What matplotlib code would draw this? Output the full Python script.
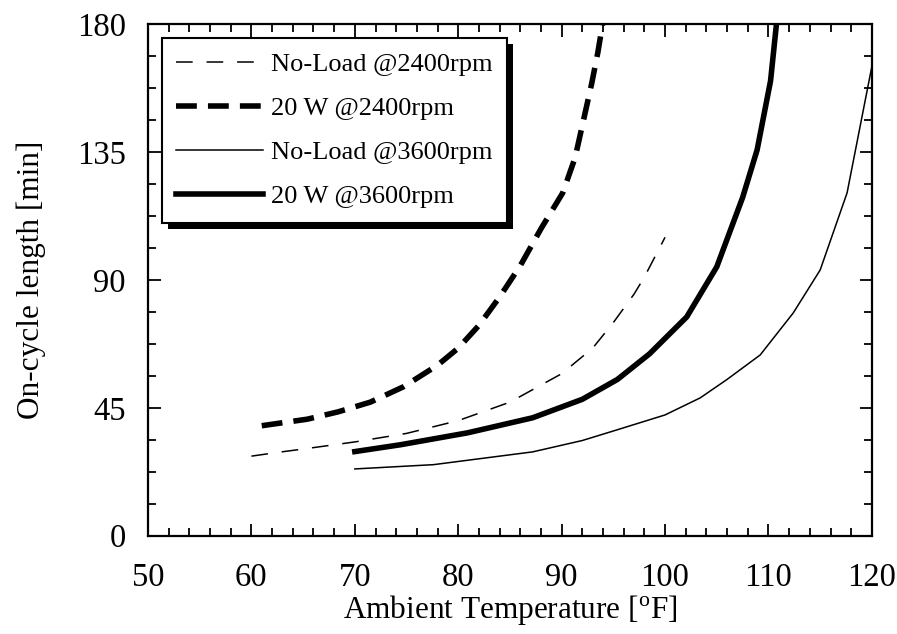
import matplotlib
matplotlib.use("Agg")
import matplotlib.pyplot as plt
from matplotlib.ticker import MultipleLocator
from matplotlib.patches import Rectangle

# Fonts: Times-like serif everywhere
plt.rcParams['font.family'] = ['Liberation Serif', 'DejaVu Serif']
plt.rcParams['mathtext.fontset'] = 'custom'
plt.rcParams['mathtext.rm'] = 'Liberation Serif'
plt.rcParams['lines.scale_dashes'] = False

# Curves
x_noload_2400 = [60, 62.5, 65, 70, 75, 80, 85, 90, 93, 95, 97, 98, 100]
y_noload_2400 = [28, 29.3, 30.5, 33, 36, 40.5, 47, 57, 66, 75, 85, 91, 105]

x_20w_2400 = [61, 65.4, 68.4, 71.5, 74.7, 78, 80, 82, 84, 86, 88, 90.1, 91.3, 92.1, 92.9, 93.5, 94]
y_20w_2400 = [38.7, 41, 43.6, 47, 52.4, 60, 66, 74, 84, 95, 108, 120.6, 133, 146, 159, 170, 181]

x_noload_3600 = [70, 77.6, 87.2, 92, 95.4, 100, 103.4, 106, 109.2, 112.4, 115, 117.6, 120.1]
y_noload_3600 = [23.5, 25, 29.5, 33.5, 37.3, 42.5, 48.5, 55, 63.6, 78.4, 93.5, 120.6, 167]

x_20w_3600 = [70, 74.4, 80.9, 87.2, 92, 95.4, 98.5, 102.1, 105, 107.5, 108.9, 110.2, 110.8]
y_20w_3600 = [29.6, 32, 36.2, 41.5, 48, 55, 64, 77, 94.6, 119, 135.7, 160, 181]

labels = ['No-Load @2400rpm', '20 W @2400rpm', 'No-Load @3600rpm', '20 W @3600rpm']

fig = plt.figure(figsize=(8.97, 6.34), dpi=100)
ax = fig.add_axes([0.165, 0.155, 0.807, 0.807])

ax.plot(x_noload_2400, y_noload_2400, color='black', lw=1.1,
        linestyle=(0, (12, 10)), label=labels[0])
ax.plot(x_20w_2400, y_20w_2400, color='black', lw=4.0,
        linestyle=(0, (15, 8)), label=labels[1])
ax.plot(x_noload_3600, y_noload_3600, color='black', lw=1.1, label=labels[2])
ax.plot(x_20w_3600, y_20w_3600, color='black', lw=4.0, label=labels[3])

ax.set_xlim(50, 120)
ax.set_ylim(0, 180)
ax.xaxis.set_major_locator(MultipleLocator(10))
ax.xaxis.set_minor_locator(MultipleLocator(2))
ax.yaxis.set_major_locator(MultipleLocator(45))
ax.yaxis.set_minor_locator(MultipleLocator(11.25))
ax.tick_params(which='both', direction='in', top=True, right=True, width=1.3)
ax.tick_params(which='major', length=9)
ax.tick_params(which='minor', length=6)
ax.tick_params(axis='x', which='major', labelsize=23.5, pad=19)
ax.tick_params(axis='y', which='major', labelsize=23.5, pad=16)
for s in ax.spines.values():
    s.set_linewidth(1.6)

ax.set_xlabel('Ambient Temperature [$^{\\rm o}$F]', fontsize=22.5, labelpad=0)
ax.set_ylabel('On-cycle length [min]', fontsize=22.5, labelpad=22)

leg = ax.legend(loc='upper left', bbox_to_anchor=(0.019, 0.973), borderaxespad=0,
                fontsize=19, handlelength=3.3, handletextpad=0.3,
                labelspacing=0.78, borderpad=0.55, fancybox=False, framealpha=1)
leg.get_frame().set_edgecolor('black')
leg.get_frame().set_linewidth(1.5)

# thick black drop shadow behind the legend box
fig.canvas.draw()
bb = leg.get_window_extent()
shadow = Rectangle((bb.x0 + 6, bb.y0 - 6), bb.width, bb.height,
                   transform=None, facecolor='black', edgecolor='none', zorder=4)
ax.add_artist(shadow)
leg.set_zorder(5)

fig.savefig('out.png', dpi=100)
